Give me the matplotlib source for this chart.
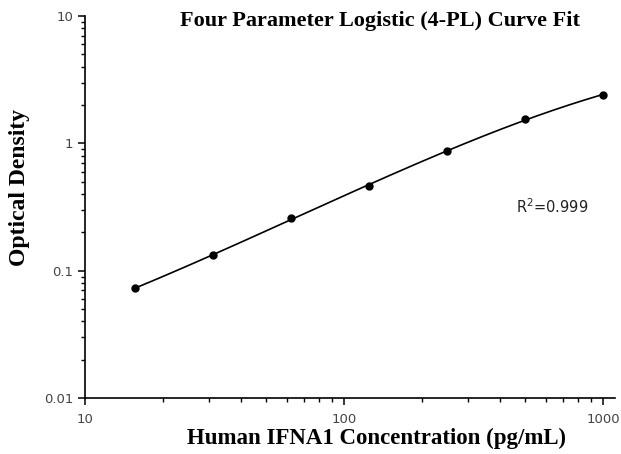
import numpy as np
from matplotlib import pyplot as plt
from matplotlib.ticker import LogLocator, NullFormatter, FixedLocator, FixedFormatter

# Standard curve points
conc = [15.6, 31.25, 62.5, 125, 250, 500, 1000]
od = [0.073, 0.133, 0.259, 0.462, 0.87, 1.55, 2.4]
r2_text = "R$^2$=0.999"


def four_pl(x, a, b, c, d):
    return d + (a - d) / (1.0 + (x / c) ** b)


def fit_4pl(x, y):
    # small damped Gauss-Newton on log(OD), no scipy needed
    x = np.asarray(x, float)
    y = np.asarray(y, float)
    p = np.array([0.02, 1.0, 400.0, 5.0])
    lam = 1e-2
    def resid(p):
        f = four_pl(x, *p)
        if np.any(f <= 0):
            return np.full_like(y, 1e3)
        return np.log(f) - np.log(y)
    r = resid(p)
    for _ in range(500):
        J = np.zeros((len(x), 4))
        for k in range(4):
            dp = np.zeros(4)
            dp[k] = 1e-6 * max(abs(p[k]), 1e-3)
            J[:, k] = (resid(p + dp) - r) / dp[k]
        A = J.T @ J
        g = J.T @ r
        step = np.linalg.solve(A + lam * np.diag(np.diag(A) + 1e-12), -g)
        p_new = p + step
        r_new = resid(p_new)
        if np.sum(r_new ** 2) < np.sum(r ** 2):
            p, r = p_new, r_new
            lam *= 0.5
        else:
            lam *= 4
    return p


params = fit_4pl(conc, od)
xs = np.logspace(np.log10(conc[0]), np.log10(conc[-1]), 300)
ys = four_pl(xs, *params)

fig = plt.figure(figsize=(6.21, 4.54), dpi=100)
ax = fig.add_axes([0.137, 0.123, 0.853, 0.842])

ax.plot(xs, ys, color='black', linewidth=1.2)
ax.plot(conc, od, 'o', color='black', markersize=5)

ax.set_xscale('log')
ax.set_yscale('log')
ax.set_xlim(10, 1110)
ax.set_ylim(0.01, 10)

ax.spines['top'].set_visible(False)
ax.spines['right'].set_visible(False)
for s in ['left', 'bottom']:
    ax.spines[s].set_linewidth(1.2)

ax.xaxis.set_major_locator(FixedLocator([10, 100, 1000]))
ax.xaxis.set_major_formatter(FixedFormatter(['10', '100', '1000']))
ax.yaxis.set_major_locator(FixedLocator([0.01, 0.1, 1, 10]))
ax.yaxis.set_major_formatter(FixedFormatter(['0.01', '0.1', '1', '10']))
ax.xaxis.set_minor_locator(LogLocator(base=10, subs=np.arange(2, 10)))
ax.yaxis.set_minor_locator(LogLocator(base=10, subs=np.arange(2, 10)))
ax.xaxis.set_minor_formatter(NullFormatter())
ax.yaxis.set_minor_formatter(NullFormatter())
ax.tick_params(which='major', direction='out', length=5, width=1.1,
               labelsize=9.5, colors='black')
ax.tick_params(axis='x', which='major', pad=6)
ax.tick_params(which='minor', direction='out', length=3, width=1.0)
for lab in ax.get_xticklabels() + ax.get_yticklabels():
    lab.set_family('DejaVu Sans')
    lab.set_color('#444444')

serif = 'Liberation Serif'
ax.set_xlabel('Human IFNA1 Concentration (pg/mL)', family=serif,
              fontweight='bold', fontsize=16.5, va='center')
ax.xaxis.set_label_coords(0.551, -0.105)
ax.set_ylabel('Optical Density', family=serif, fontweight='bold',
              fontsize=17, va='center')
ax.yaxis.set_label_coords(-0.123, 0.55)
fig.text(380 / 621, 1 - 21 / 454, 'Four Parameter Logistic (4-PL) Curve Fit',
         ha='center', va='center', family=serif,
         fontweight='bold', fontsize=16)
ax.text(0.881, 0.5, r2_text, transform=ax.transAxes, ha='center',
        va='center', family='DejaVu Sans', fontsize=10.5, color='#222222')

fig.savefig('out.png', dpi=100)
